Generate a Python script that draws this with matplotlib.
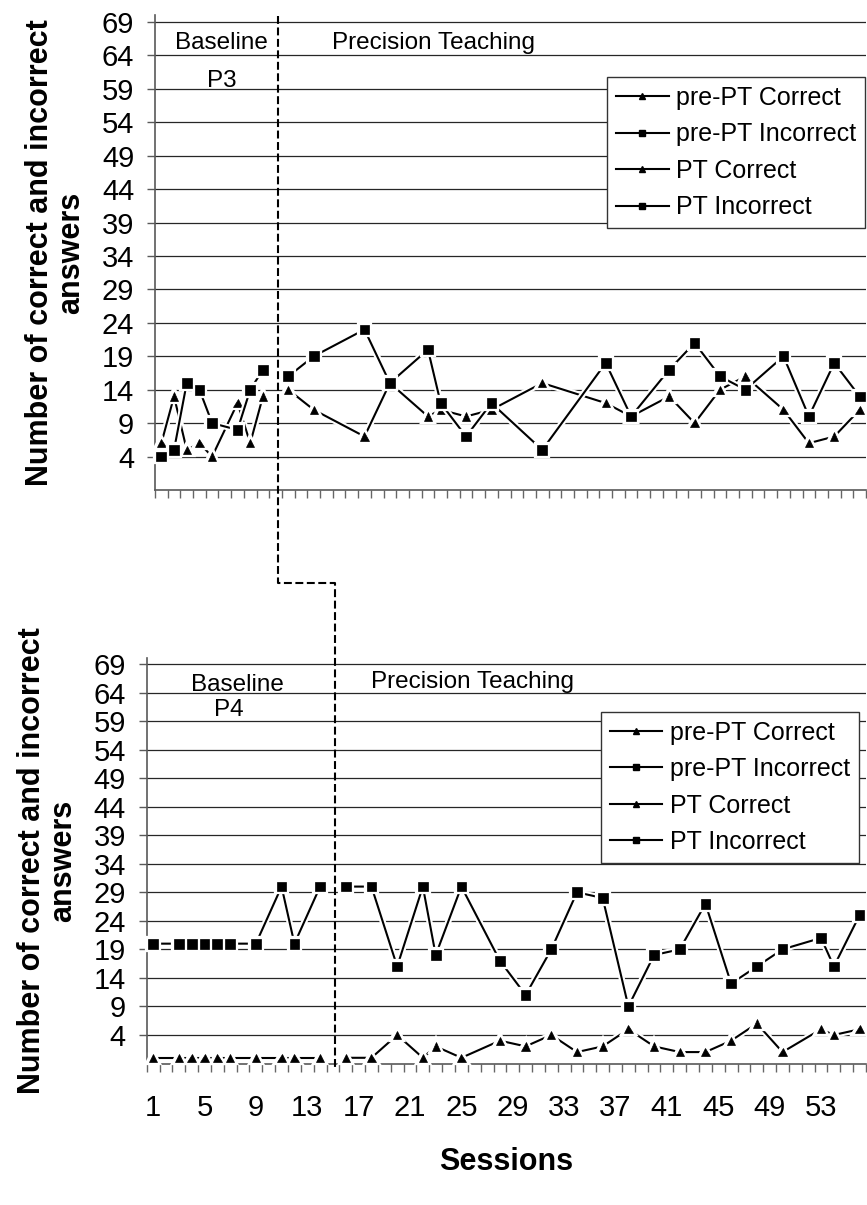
import numpy as np
import matplotlib
matplotlib.use("Agg")
import matplotlib.pyplot as plt
import matplotlib.patheffects as pe
from matplotlib.lines import Line2D

plt.rcParams['font.family'] = ['Liberation Sans', 'DejaVu Sans']

# ---- P3 ----
p3_pre_sessions = [1, 2, 3, 4, 5, 7, 8, 9]
p3_pre_correct = [6, 13, 5, 6, 4, 12, 6, 13]
p3_pre_incorrect = [4, 5, 15, 14, 9, 8, 14, 17]
p3_pt_sessions = [11, 13, 17, 19, 22, 23, 25, 27, 31, 36, 38, 41, 43, 45, 47, 50, 52, 54, 56]
p3_pt_correct = [14, 11, 7, 15, 10, 11, 10, 11, 15, 12, 10, 13, 9, 14, 16, 11, 6, 7, 11]
p3_pt_incorrect = [16, 19, 23, 15, 20, 12, 7, 12, 5, 18, 10, 17, 21, 16, 14, 19, 10, 18, 13]

# ---- P4 ----
p4_pre_sessions = [1, 3, 4, 5, 6, 7, 9, 11, 12, 14]
p4_pre_correct = [0, 0, 0, 0, 0, 0, 0, 0, 0, 0]
p4_pre_incorrect = [20, 20, 20, 20, 20, 20, 20, 30, 20, 30]
p4_pt_sessions = [16, 18, 20, 22, 23, 25, 28, 30, 32, 34, 36, 38, 40, 42, 44, 46, 48, 50, 53, 54, 56]
p4_pt_correct = [0, 0, 4, 0, 2, 0, 3, 2, 4, 1, 2, 5, 2, 1, 1, 3, 6, 1, 5, 4, 5]
p4_pt_incorrect = [30, 30, 16, 30, 18, 30, 17, 11, 19, 29, 28, 9, 18, 19, 27, 13, 16, 19, 21, 16, 25]

n_sessions = 56
session_labels = list(range(1, 54, 4))
y_ticks = list(range(4, 70, 5))
legend_labels = ['pre-PT Correct', 'pre-PT Incorrect', 'PT Correct', 'PT Incorrect']

# phase change (between baseline and PT) for each participant
phase_p3 = 10.15
phase_p4 = 15.15

W, H = 867, 1205
fig = plt.figure(figsize=(W / 100, H / 100), dpi=100)

def px_axes(left, right, top, bottom):
    return [left / W, 1 - bottom / H, (right - left) / W, (bottom - top) / H]

ax1 = fig.add_axes(px_axes(155, 866, 15.3, 490))
ax2 = fig.add_axes(px_axes(146.7, 866, 658.3, 1063.5))

halo = [pe.Stroke(linewidth=4.5, foreground='white'), pe.Normal()]

def series(ax, x, y, marker, ms):
    ax.plot(x, y, color='black', lw=1.5, marker=marker, ms=ms, mfc='black',
            mec='black', mew=0.5, path_effects=halo, zorder=3, clip_on=False)

def style_axes(ax):
    ax.set_xlim(0.5, n_sessions + 0.5)
    ax.set_ylim(-1, 70)
    ax.set_yticks(y_ticks)
    ax.yaxis.grid(True, color='0.15', lw=0.9)
    ax.set_axisbelow(True)
    for s in ['top', 'right']:
        ax.spines[s].set_visible(False)
    for s in ['left', 'bottom']:
        ax.spines[s].set_color('0.35')
        ax.spines[s].set_linewidth(1.2)
    ax.set_xticks(np.arange(0.5, n_sessions + 1, 1), minor=True)
    ax.tick_params(axis='x', which='minor', length=6, width=1, color='0.4', direction='out')
    ax.tick_params(axis='y', which='major', length=6, width=1, color='0.35',
                   labelsize=21, pad=9)

    handles = [Line2D([], [], color='black', lw=1.5, marker='^', ms=5),
               Line2D([], [], color='black', lw=1.5, marker='s', ms=5),
               Line2D([], [], color='black', lw=1.5, marker='^', ms=5),
               Line2D([], [], color='black', lw=1.5, marker='s', ms=5)]
    return handles

def add_legend(ax, handles, anchor):
    leg = ax.legend(handles, legend_labels, loc='upper right', bbox_to_anchor=anchor,
                    fontsize=18, frameon=True, fancybox=False, edgecolor='0.2',
                    framealpha=1, handlelength=2.1, handletextpad=0.3,
                    labelspacing=0.5, borderpad=0.35, borderaxespad=0)
    leg.get_frame().set_linewidth(1)

# top panel (P3)
h = style_axes(ax1)
series(ax1, p3_pre_sessions, p3_pre_correct, '^', 6)
series(ax1, p3_pre_sessions, p3_pre_incorrect, 's', 7)
series(ax1, p3_pt_sessions, p3_pt_correct, '^', 6)
series(ax1, p3_pt_sessions, p3_pt_incorrect, 's', 7)
ax1.set_xticks([])
add_legend(ax1, h, (0.9986, 0.870))
ax1.text(5.7, 65.9, 'Baseline', ha='center', va='center', fontsize=17.5)
ax1.text(5.8, 60.2, 'P3', ha='center', va='center', fontsize=17.5)
ax1.text(22.4, 65.9, 'Precision Teaching', ha='center', va='center', fontsize=17.5)
ax1.set_ylabel('Number of correct and incorrect\nanswers', fontsize=22,
               fontweight='bold', linespacing=1.05)
ax1.yaxis.set_label_coords(-0.097, 0.5)

# bottom panel (P4)
h = style_axes(ax2)
series(ax2, p4_pre_sessions, p4_pre_correct, '^', 6)
series(ax2, p4_pre_sessions, p4_pre_incorrect, 's', 7)
series(ax2, p4_pt_sessions, p4_pt_correct, '^', 6)
series(ax2, p4_pt_sessions, p4_pt_incorrect, 's', 7)
ax2.set_xticks(session_labels)
ax2.tick_params(axis='x', which='major', length=0, labelsize=21, pad=22)
add_legend(ax2, h, (0.990, 0.8675))
ax2.text(7.6, 65.4, 'Baseline', ha='center', va='center', fontsize=17.5)
ax2.text(6.9, 61.0, 'P4', ha='center', va='center', fontsize=17.5)
ax2.text(25.9, 65.9, 'Precision Teaching', ha='center', va='center', fontsize=17.5)
ax2.set_ylabel('Number of correct and incorrect\nanswers', fontsize=22,
               fontweight='bold', linespacing=1.05)
ax2.yaxis.set_label_coords(-0.0955, 0.5)
ax2.set_xlabel('Sessions', fontsize=22, fontweight='bold')
ax2.xaxis.set_label_coords(0.5, -0.205)

# dashed phase-change line running through both panels
inv = fig.transFigure.inverted()
xt = inv.transform(ax1.transData.transform((phase_p3, 0)))[0]
xb = inv.transform(ax2.transData.transform((phase_p4, 0)))[0]
y_top = 1 - 16 / H
y_elbow = 1 - 583 / H
y_end = 1 - 1070 / H
fig.add_artist(Line2D([xt, xt, xb, xb], [y_top, y_elbow, y_elbow, y_end],
                      transform=fig.transFigure, color='black', lw=1.5,
                      linestyle=(0, (3.8, 1.7)), zorder=5))

fig.savefig('out.png', dpi=100, facecolor='white')
